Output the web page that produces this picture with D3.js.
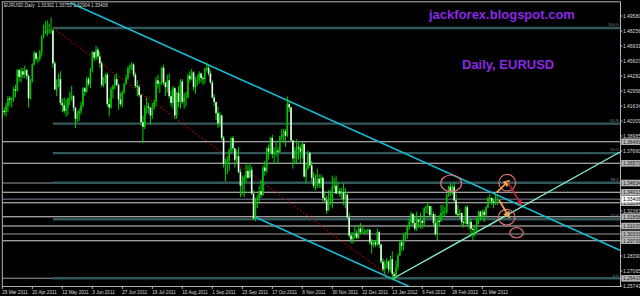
<!DOCTYPE html>
<html><head><meta charset="utf-8">
<script src="https://cdn.jsdelivr.net/npm/d3@7"></script>
<style>html,body{margin:0;padding:0;background:#000;overflow:hidden}</style>
</head><body>
<svg id="c" width="640" height="296"></svg>
<script>
// ---------- DATA (daily EURUSD bars, [high, low, close]; open = previous close) ----------
const firstOpen = 1.4090;
const mar2011 = [[1.4140,1.4050,1.4120],[1.4150,1.4080,1.4110],[1.4190,1.4070,1.4160]];
const apr2011 = [[1.4250,1.4110,1.4230],[1.4250,1.4170,1.4220],[1.4240,1.4150,1.4230],[1.4330,1.4200,1.4310],[1.4350,1.4240,1.4300],
 [1.4490,1.4290,1.4480],[1.4490,1.4380,1.4420],[1.4500,1.4370,1.4470],[1.4500,1.4410,1.4440],[1.4520,1.4410,1.4480],[1.4490,1.4400,1.4430],
 [1.4440,1.4150,1.4230],[1.4400,1.4220,1.4380],[1.4540,1.4370,1.4530],[1.4650,1.4520,1.4630],[1.4640,1.4560,1.4580],[1.4600,1.4540,1.4580],
 [1.4660,1.4560,1.4640],[1.4790,1.4600,1.4770],[1.4880,1.4760,1.4810],[1.4910,1.4800,1.4810]];
const may2011 = [[1.4920,1.4780,1.4830],[1.4890,1.4800,1.4830],[1.4945,1.4800,1.4830],[1.4850,1.4500,1.4540],[1.4560,1.4300,1.4310],
 [1.4400,1.4250,1.4350],[1.4450,1.4330,1.4400],[1.4470,1.4170,1.4190],[1.4230,1.4110,1.4170],[1.4240,1.4100,1.4120],[1.4220,1.4070,1.4150],
 [1.4240,1.4080,1.4230],[1.4290,1.4170,1.4240],[1.4340,1.4210,1.4250],[1.4260,1.4120,1.4150],[1.4150,1.3968,1.4050],[1.4120,1.4020,1.4090],
 [1.4140,1.4030,1.4120],[1.4200,1.4090,1.4170],[1.4330,1.4150,1.4320],[1.4330,1.4250,1.4290],[1.4420,1.4280,1.4400]];
const jun2011 = [[1.4420,1.4340,1.4360],[1.4500,1.4320,1.4490],[1.4650,1.4460,1.4640],[1.4640,1.4560,1.4590],[1.4695,1.4570,1.4660],
 [1.4680,1.4570,1.4600],[1.4640,1.4500,1.4540],[1.4560,1.4330,1.4350],[1.4420,1.4330,1.4390],[1.4450,1.4360,1.4440],[1.4460,1.4160,1.4180],
 [1.4230,1.4070,1.4150],[1.4330,1.4140,1.4310],[1.4350,1.4230,1.4340],[1.4440,1.4310,1.4400],[1.4450,1.4340,1.4350],[1.4360,1.4130,1.4220],
 [1.4280,1.4160,1.4180],[1.4300,1.4150,1.4290],[1.4370,1.4270,1.4360],[1.4440,1.4350,1.4410],[1.4510,1.4390,1.4500]];
const jul2011 = [[1.4530,1.4450,1.4520],[1.4550,1.4480,1.4530],[1.4540,1.4420,1.4440],[1.4460,1.4320,1.4340],[1.4390,1.4250,1.4330],
 [1.4350,1.4240,1.4260],[1.4270,1.3990,1.4020],[1.4080,1.3837,1.3980],[1.4170,1.3960,1.4150],[1.4240,1.4090,1.4160],[1.4190,1.4100,1.4150],
 [1.4150,1.4000,1.4080],[1.4190,1.4050,1.4150],[1.4220,1.4130,1.4200],[1.4420,1.4160,1.4390],[1.4440,1.4320,1.4360],[1.4380,1.4280,1.4370],
 [1.4510,1.4350,1.4500],[1.4530,1.4350,1.4370],[1.4380,1.4250,1.4330],[1.4440,1.4280,1.4390]];
const aug2011 = [[1.4450,1.4230,1.4250],[1.4300,1.4160,1.4190],[1.4340,1.4140,1.4320],[1.4330,1.4050,1.4080],[1.4290,1.4050,1.4280],
 [1.4340,1.4150,1.4200],[1.4400,1.4140,1.4380],[1.4400,1.4180,1.4200],[1.4280,1.4140,1.4240],[1.4290,1.4160,1.4240],[1.4450,1.4230,1.4430],
 [1.4470,1.4370,1.4400],[1.4490,1.4390,1.4460],[1.4470,1.4300,1.4330],[1.4420,1.4270,1.4390],[1.4440,1.4340,1.4390],[1.4470,1.4360,1.4450],
 [1.4460,1.4370,1.4410],[1.4430,1.4350,1.4400],[1.4500,1.4360,1.4490],[1.4550,1.4470,1.4500],[1.4520,1.4430,1.4450],[1.4480,1.4360,1.4370]];
const sep2011 = [[1.4390,1.4230,1.4240],[1.4270,1.4160,1.4200],[1.4190,1.4040,1.4100],[1.4160,1.3970,1.4010],[1.4110,1.3980,1.4080],
 [1.4090,1.3860,1.3880],[1.3900,1.3620,1.3650],[1.3700,1.3495,1.3660],[1.3720,1.3560,1.3680],[1.3790,1.3590,1.3770],[1.3890,1.3740,1.3880],
 [1.3900,1.3760,1.3790],[1.3780,1.3620,1.3690],[1.3780,1.3650,1.3720],[1.3800,1.3570,1.3580],[1.3610,1.3360,1.3460],[1.3550,1.3380,1.3500],
 [1.3550,1.3360,1.3530],[1.3650,1.3490,1.3590],[1.3640,1.3520,1.3530],[1.3660,1.3530,1.3600],[1.3630,1.3380,1.3390]];
const oct2011 = [[1.3420,1.3160,1.3170],[1.3350,1.3145,1.3340],[1.3380,1.3260,1.3350],[1.3460,1.3300,1.3410],[1.3510,1.3350,1.3380],
 [1.3640,1.3370,1.3620],[1.3680,1.3550,1.3590],[1.3800,1.3570,1.3790],[1.3820,1.3690,1.3760],[1.3890,1.3740,1.3880],[1.3910,1.3700,1.3740],
 [1.3800,1.3650,1.3760],[1.3860,1.3720,1.3770],[1.3800,1.3650,1.3760],[1.3900,1.3750,1.3890],[1.3960,1.3860,1.3910],[1.3960,1.3840,1.3940],
 [1.3960,1.3800,1.3900],[1.4247,1.3890,1.4180],[1.4210,1.4110,1.4150],[1.4160,1.3850,1.3860]];
const nov2011 = [[1.3860,1.3610,1.3700],[1.3800,1.3650,1.3770],[1.3870,1.3660,1.3800],[1.3850,1.3690,1.3790],[1.3820,1.3660,1.3760],
 [1.3850,1.3700,1.3830],[1.3820,1.3530,1.3540],[1.3660,1.3480,1.3610],[1.3770,1.3600,1.3750],[1.3760,1.3620,1.3640],[1.3680,1.3490,1.3530],
 [1.3580,1.3440,1.3460],[1.3560,1.3420,1.3460],[1.3610,1.3440,1.3520],[1.3560,1.3440,1.3480],[1.3560,1.3440,1.3530],[1.3540,1.3320,1.3350],
 [1.3410,1.3310,1.3330],[1.3370,1.3210,1.3240],[1.3420,1.3240,1.3320],[1.3420,1.3290,1.3320],[1.3550,1.3260,1.3450]];
const dec2011 = [[1.3530,1.3420,1.3460],[1.3550,1.3390,1.3390],[1.3490,1.3390,1.3410],[1.3440,1.3360,1.3390],[1.3440,1.3340,1.3400],
 [1.3480,1.3290,1.3340],[1.3440,1.3260,1.3380],[1.3400,1.3170,1.3180],[1.3220,1.3000,1.3020],[1.3050,1.2950,1.2985],[1.3050,1.2950,1.3010],
 [1.3110,1.2990,1.3040],[1.3070,1.2990,1.3000],[1.3110,1.2990,1.3080],[1.3130,1.3030,1.3050],[1.3100,1.3040,1.3050],[1.3080,1.3030,1.3050],
 [1.3070,1.3040,1.3060],[1.3080,1.3030,1.3070],[1.3080,1.2940,1.2960],[1.2990,1.2860,1.2940],[1.2980,1.2920,1.2960]];
const jan2012 = [[1.2980,1.2920,1.2940],[1.3080,1.2930,1.3050],[1.3060,1.2910,1.2940],[1.2950,1.2770,1.2790],[1.2820,1.2700,1.2720],
 [1.2800,1.2670,1.2770],[1.2820,1.2730,1.2790],[1.2800,1.2690,1.2720],[1.2840,1.2700,1.2810],[1.2880,1.2624,1.2680],[1.2700,1.2630,1.2660],
 [1.2800,1.2660,1.2740],[1.2860,1.2710,1.2840],[1.2970,1.2840,1.2960],[1.2980,1.2880,1.2930],[1.3040,1.2890,1.3020],[1.3050,1.2980,1.3040],
 [1.3110,1.2990,1.3100],[1.3170,1.3070,1.3140],[1.3230,1.3110,1.3210],[1.3220,1.3100,1.3130],[1.3200,1.3060,1.3080]];
const feb2012 = [[1.3230,1.3060,1.3160],[1.3170,1.3090,1.3140],[1.3220,1.3080,1.3150],[1.3160,1.3080,1.3130],[1.3270,1.3100,1.3260],
 [1.3290,1.3220,1.3270],[1.3320,1.3210,1.3280],[1.3280,1.3180,1.3200],[1.3280,1.3180,1.3210],[1.3230,1.3100,1.3130],[1.3210,1.3020,1.3030],
 [1.3160,1.2975,1.3150],[1.3200,1.3100,1.3140],[1.3290,1.3150,1.3220],[1.3290,1.3180,1.3230],[1.3270,1.3190,1.3230],[1.3390,1.3210,1.3380],
 [1.3460,1.3360,1.3450],[1.3480,1.3370,1.3410],[1.3470,1.3380,1.3450],[1.3486,1.3320,1.3330]];
const mar2012 = [[1.3390,1.3200,1.3210],[1.3290,1.3190,1.3200],[1.3250,1.3160,1.3220],[1.3220,1.3110,1.3140],[1.3150,1.3090,1.3130],
 [1.3280,1.3120,1.3270],[1.3290,1.3100,1.3120],[1.3160,1.3070,1.3140],[1.3170,1.3010,1.3080],[1.3100,1.2980,1.3070],[1.3110,1.3010,1.3080],
 [1.3180,1.3050,1.3170],[1.3240,1.3120,1.3230],[1.3240,1.3150,1.3190],[1.3250,1.3160,1.3230],[1.3250,1.3140,1.3200],[1.3280,1.3180,1.3270],
 [1.3360,1.3260,1.3350],[1.3390,1.3310,1.3350],[1.3360,1.3290,1.3320],[1.3340,1.3260,1.3310],[1.3390,1.3290,1.3330]];
const apr2012 = [[1.33755,1.32904,1.33408]];

const header = "EURUSD,Daily  1.33302 1.33755 1.32904 1.33408";
const dateLabels = ["29 Mar 2011","20 Apr 2011","12 May 2011","3 Jun 2011","27 Jun 2011","19 Jul 2011","10 Aug 2011","1 Sep 2011",
 "23 Sep 2011","17 Oct 2011","8 Nov 2011","30 Nov 2011","22 Dec 2011","13 Jan 2012","6 Feb 2012","28 Feb 2012","21 Mar 2012"];
const dateLabelBars = [0,16,32,48,64,80,96,112,128,144,160,176,192,208,224,240,256];
const priceTicks = ["1.49580","1.48256","1.46931","1.45607","1.44282","1.42958","1.41634","1.40309","1.38985","1.37660",
 "1.36336","1.35012","1.33687","1.32363","1.31038","1.29714","1.28390","1.27065","1.25741"];
// horizontal support/resistance levels
const hLevels = [1.38481,1.36573,1.34834,1.34013,1.33094,1.31858,1.31037,1.30331,1.29739,1.26419];
const hLevelDim = [false,false,true,false,false,false,false,true,false,true];
const bidPrice = 1.33408;
// Fibonacci retracement
const fibStartBar = 27, fibHigh = 1.48520, fibLow = 1.26419;
const fibLevels = [0, 23.6, 38.2, 50, 61.8, 100];
const fibText = ["0.0","23.6","38.2","50.0","61.8","100.0"];
// trend lines: [bar1, price1, bar2, price2]
const upperChannel = [36.6, 1.5073, 329.4, 1.28891];
const lowerChannel = [134.8, 1.31832, 230, 1.24724];
const risingLine = [208, 1.2636, 329.4, 1.37571];
const fibTrend = [27, 1.48520, 208, 1.26419];
// annotation ellipses: [bar, price, radiusBars, radiusPrice]
const circles = [[239.4,1.34807,5.6,0.00733],[269.3,1.34861,4.43,0.00733],[269.0,1.31814,4.43,0.00689],[274.3,1.30445,3.57,0.00442]];
// arrows: [bar1, price1, bar2, price2]
const orangeArrows = [[263.7,1.34013,270.2,1.35037],[264.9,1.33333,270.4,1.31806]];
const redArrows = [[269.3,1.34949,277.0,1.32892]];

// ---------- BUILD ----------
const rows = [].concat(mar2011,apr2011,may2011,jun2011,jul2011,aug2011,sep2011,oct2011,nov2011,dec2011,jan2012,feb2012,mar2012,apr2012);
const bars = rows.map((r,i)=>({i, o: i===0?firstOpen:rows[i-1][2], h:r[0], l:r[1], c:r[2]}));

const svg = d3.select("#c");
const x = d3.scaleLinear().domain([0,264]).range([2.3,497.3]);
const y = d3.scaleLinear().domain([1.25741,1.49580]).range([286,16]);
const L = 2.3, R = 620.5, T = 1.8, B = 286.5;
const FONT = "'Liberation Sans', Arial, sans-serif";

svg.append("rect").attr("width",640).attr("height",296).attr("fill","#000");
const defs = svg.append("defs");
defs.append("clipPath").attr("id","plot").append("rect").attr("x",L).attr("y",T).attr("width",R-L).attr("height",B-T);
function marker(id,color){
  defs.append("marker").attr("id",id).attr("viewBox","0 0 10 10").attr("refX",8).attr("refY",5)
   .attr("markerWidth",4).attr("markerHeight",4).attr("orient","auto")
   .append("path").attr("d","M0,0L10,5L0,10z").attr("fill",color);
}
marker("mo","#eea24e"); marker("mr","#c8283a");

const g = svg.append("g").attr("clip-path","url(#plot)");

// horizontal levels
g.selectAll("line.h").data(hLevels).join("line")
 .attr("x1",L).attr("x2",R).attr("y1",d=>y(d)).attr("y2",d=>y(d))
 .attr("stroke",(d,i)=>hLevelDim[i]?"#9a9a9a":"#d4d4d4").attr("stroke-width",1.1);
// bid line
g.append("line").attr("x1",L).attr("x2",R).attr("y1",y(bidPrice)).attr("y2",y(bidPrice))
 .attr("stroke","#778899").attr("stroke-width",1);
// fib lines
const fibPrice = lv => fibLow + (fibHigh-fibLow)*lv/100;
g.selectAll("line.f").data(fibLevels).join("line")
 .attr("x1",x(fibStartBar)).attr("x2",R).attr("y1",d=>y(fibPrice(d))).attr("y2",d=>y(fibPrice(d)))
 .attr("stroke","#34585a").attr("stroke-width",2.4);
g.selectAll("text.f").data(fibLevels).join("text")
 .attr("x",R-2).attr("y",d=>y(fibPrice(d))-1.8).attr("text-anchor","end")
 .attr("font-family",FONT).attr("font-size",4.2).attr("fill","#6f8f8f").text((d,i)=>fibText[i]);

// trend lines
function tl(a,color,w,dash){
  g.append("line").attr("x1",x(a[0])).attr("y1",y(a[1])).attr("x2",x(a[2])).attr("y2",y(a[3]))
   .attr("stroke",color).attr("stroke-width",w).attr("stroke-dasharray",dash||null);
}
tl(fibTrend,"#c80000",1.2,"1.3,2.4");
tl(upperChannel,"#14bcd4",1.6);
tl(lowerChannel,"#14bcd4",1.6);
tl(risingLine,"#80f0cc",1.4);

// candles
const cg = g.append("g");
cg.selectAll("line.w").data(bars).join("line")
 .attr("x1",d=>x(d.i)).attr("x2",d=>x(d.i)).attr("y1",d=>y(d.h)).attr("y2",d=>y(d.l))
 .attr("stroke","#00d400").attr("stroke-width",1);
cg.selectAll("rect.b").data(bars).join("rect")
 .attr("x",d=>x(d.i)-0.8).attr("width",1.6)
 .attr("y",d=>y(Math.max(d.o,d.c)))
 .attr("height",d=>Math.max(0.6,Math.abs(y(d.o)-y(d.c))))
 .attr("fill",d=>d.c>=d.o?"#00c400":"#e4ffe4");

// annotations
const ag = svg.append("g");
ag.selectAll("ellipse").data(circles).join("ellipse")
 .attr("cx",d=>x(d[0])).attr("cy",d=>y(d[1]))
 .attr("rx",d=>x(d[0]+d[2])-x(d[0])).attr("ry",d=>y(d[1]-d[3])-y(d[1]))
 .attr("fill","none").attr("stroke","#e07276").attr("stroke-width",1.2);
ag.selectAll("line.o").data(orangeArrows).join("line")
 .attr("x1",d=>x(d[0])).attr("y1",d=>y(d[1])).attr("x2",d=>x(d[2])).attr("y2",d=>y(d[3]))
 .attr("stroke","#eea24e").attr("stroke-width",1.8).attr("marker-end","url(#mo)");
ag.selectAll("line.r").data(redArrows).join("line")
 .attr("x1",d=>x(d[0])).attr("y1",d=>y(d[1])).attr("x2",d=>x(d[2])).attr("y2",d=>y(d[3]))
 .attr("stroke","#c8283a").attr("stroke-width",1.5).attr("marker-end","url(#mr)");

// frame
svg.append("rect").attr("x",L).attr("y",T).attr("width",R-L).attr("height",B-T)
 .attr("fill","none").attr("stroke","#b4b4b4").attr("stroke-width",1);

// price axis (tick labels hidden underneath a level box are not drawn, as in the reference)
const boxYs = hLevels.concat([bidPrice]).map(p=>y(p));
const visibleTicks = priceTicks.filter(t=>boxYs.every(by=>Math.abs(by-y(+t))>5));
svg.selectAll("line.pt").data(priceTicks).join("line")
 .attr("x1",R).attr("x2",R+2).attr("y1",d=>y(+d)).attr("y2",d=>y(+d)).attr("stroke","#b4b4b4");
svg.selectAll("text.pt").data(visibleTicks).join("text")
 .attr("x",R+2.4).attr("y",d=>y(+d)+1.8).attr("font-family",FONT).attr("font-size",5)
 .attr("fill","#d8d8d8").text(d=>d);
// level boxes
const lb = svg.append("g");
lb.selectAll("rect").data(hLevels).join("rect")
 .attr("x",R+0.8).attr("y",d=>y(d)-3.3).attr("width",22).attr("height",6.6).attr("fill","#b4b4b4");
lb.selectAll("text").data(hLevels).join("text")
 .attr("x",R+2.4).attr("y",d=>y(d)+1.8).attr("font-family",FONT).attr("font-size",5)
 .attr("fill","#1e1e1e").text(d=>d3.format(".5f")(d));
lb.append("rect").attr("x",R+0.8).attr("y",y(bidPrice)-3.3).attr("width",22).attr("height",6.6).attr("fill","#ffffff");
lb.append("text").attr("x",R+2.4).attr("y",y(bidPrice)+1.8).attr("font-family",FONT).attr("font-size",5)
 .attr("fill","#000").text(d3.format(".5f")(bidPrice));

// date axis
svg.selectAll("line.dt").data(dateLabelBars).join("line")
 .attr("x1",d=>x(d)).attr("x2",d=>x(d)).attr("y1",B).attr("y2",B+2.5).attr("stroke","#b4b4b4");
svg.selectAll("text.dt").data(dateLabels).join("text")
 .attr("x",(d,i)=>x(dateLabelBars[i])).attr("y",293.6).attr("font-family",FONT).attr("font-size",4.6)
 .attr("fill","#d8d8d8").text(d=>d);

// header and titles
svg.append("text").attr("x",4).attr("y",7.4).attr("font-family",FONT).attr("font-size",4.6)
 .attr("fill","#dcdcdc").attr("xml:space","preserve").text(header);
svg.append("text").attr("x",429).attr("y",19.2).attr("font-family",FONT).attr("font-weight","bold")
 .attr("font-size",13).attr("fill","#8c28e6").text("jackforex.blogspot.com");
svg.append("text").attr("x",462).attr("y",68.6).attr("font-family",FONT).attr("font-weight","bold")
 .attr("font-size",13).attr("fill","#8c28e6").text("Daily, EURUSD");
</script>
</body></html>
